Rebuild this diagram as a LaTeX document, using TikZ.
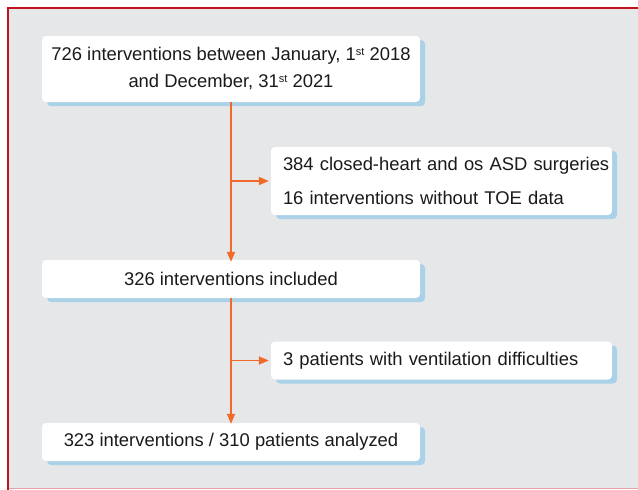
\documentclass[tikz,border=0pt]{standalone}
\usepackage{fontspec}
\setmainfont{Liberation Sans}
\usetikzlibrary{arrows.meta,shadows}
\definecolor{panelgrey}{HTML}{E6E7E9}
\definecolor{framered}{HTML}{C4121C}
\definecolor{framepink}{HTML}{E3A3AA}
\definecolor{shadowblue}{HTML}{A9D1E7}
\definecolor{flowline}{HTML}{F26A2A}
\definecolor{inktext}{HTML}{1A1A1A}
\newcommand{\ordsup}[1]{\raisebox{0.55ex}{\fontsize{11}{11}\selectfont #1}}
\begin{document}
\begin{tikzpicture}[x=1pt,y=-1pt,
  font=\fontsize{18.4}{27}\selectfont,
  box/.style={draw=none, fill=white, rounded corners=4pt, text=inktext,
    inner sep=0pt, anchor=center,
    drop shadow={shadow xshift=5pt, shadow yshift=-4pt, fill=shadowblue, opacity=1}},
  mainbox/.style={box, minimum width=378pt},
  sidebox/.style={box, minimum width=341pt, text width=317pt, align=left},
  conn/.style={draw=flowline, line width=1.6pt,
    -{Triangle[length=10pt,width=8pt]}}]
  \useasboundingbox (0,0) rectangle (638,490);
  % panel and frame
  \fill[white] (0,0) rectangle (638,490);
  \fill[panelgrey] (8,8) rectangle (640,488);
  \draw[framepink, line width=1.5pt] (8,488.5) -- (640,488.5);
  \draw[framered, line width=2.5pt] (8,490) -- (8,8) -- (640,8);

  % boxes
  \node[mainbox, minimum height=66pt, align=center] (b1) at (231,69)
    {726 interventions between January, 1\ordsup{st} 2018\\and December, 31\ordsup{st} 2021};
  \node[sidebox, minimum height=68pt, font=\fontsize{18.4}{34}\selectfont] (b2) at (441.5,181)
    {\mbox{384 closed-heart and os ASD surgeries}\\\mbox{16 interventions without TOE data}};
  \node[mainbox, minimum height=38pt] (b3) at (231,279)
    {326 interventions included};
  \node[sidebox, minimum height=38pt] (b4) at (441.5,360.5)
    {\mbox{3 patients with ventilation difficulties}};
  \node[mainbox, minimum height=38pt] (b5) at (231,442)
    {323 interventions / 310 patients analyzed};

  % connectors
  \draw[conn] (b1.south) -- ([yshift=-2pt]b3.north);
  \draw[conn] (b1.south |- b2.west) -- ([xshift=-2pt]b2.west);
  \draw[conn] (b3.south) -- ([yshift=-1pt]b5.north);
  \draw[conn] (b3.south |- b4.west) -- ([xshift=-2pt]b4.west);
\end{tikzpicture}
\end{document}
